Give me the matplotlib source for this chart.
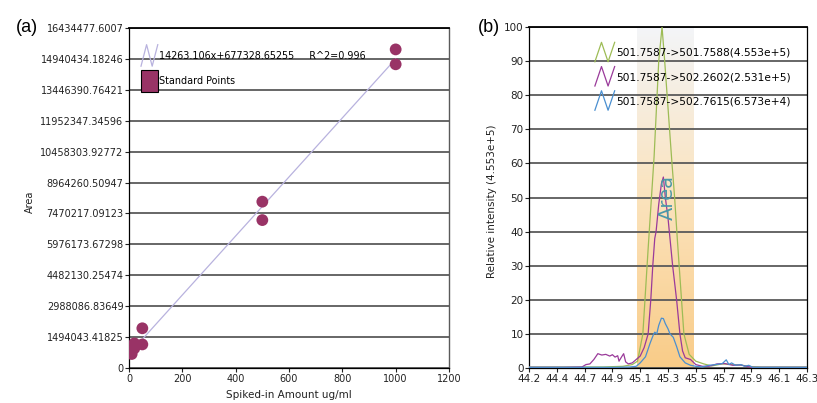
import numpy as np
import matplotlib.pyplot as plt
from matplotlib.legend_handler import HandlerBase
from matplotlib.lines import Line2D
from matplotlib.patches import Patch, Rectangle
from matplotlib.colors import LinearSegmentedColormap

# ---- panel (a): calibration curve ----
spiked = [10, 20, 20, 50, 50, 500, 500, 1000, 1000]
area = [677000, 952000, 1190000, 1920000, 1140000, 8040000, 7150000, 15400000, 14680000]
fit_slope = 14263.106
fit_icpt = 677328.65255
fit_label = "14263.106x+677328.65255     R^2=0.996"
area_ticks = [0, 1494043.41825, 2988086.83649, 4482130.25474, 5976173.67298,
              7470217.09123, 8964260.50947, 10458303.92772, 11952347.34596,
              13446390.76421, 14940434.18246, 16434477.6007]
area_ticklabels = ["0", "1494043.41825", "2988086.83649", "4482130.25474", "5976173.67298",
                   "7470217.09123", "8964260.50947", "10458303.92772", "11952347.34596",
                   "13446390.76421", "14940434.18246", "16434477.6007"]
spiked_ticks = [0, 200, 400, 600, 800, 1000, 1200]

# ---- panel (b): chromatograms ----
green_t = [44.24, 44.5, 44.8, 44.95, 45.02, 45.06, 45.10, 45.14, 45.165, 45.185, 45.22, 45.245,
           45.265, 45.32, 45.34, 45.36, 45.41, 45.45, 45.50, 45.56, 45.62, 45.70, 45.78, 45.85,
           45.92, 46.0, 46.34]
green_i = [0.3, 0.3, 0.3, 0.5, 1.0, 2.0, 10, 35, 50, 62, 90, 100,
           90, 60, 50, 38, 10, 4, 2, 1.2, 0.6, 1.2, 1.0, 0.8, 0.4, 0.3, 0.3]
purple_t = [44.24, 44.5, 44.64, 44.67, 44.70, 44.73, 44.76, 44.79, 44.82, 44.85, 44.87, 44.89,
            44.91, 44.92, 44.94, 44.955, 44.97, 44.99, 45.02, 45.05, 45.08, 45.11, 45.14, 45.16,
            45.175, 45.19, 45.20, 45.22, 45.24, 45.255, 45.27, 45.29, 45.30, 45.325, 45.355,
            45.38, 45.40, 45.42, 45.46, 45.50, 45.55, 45.60, 45.66, 45.72, 45.78, 45.84, 45.88,
            45.92, 46.34]
purple_i = [0.2, 0.2, 0.3, 1.0, 1.2, 2.5, 4.2, 3.8, 4.0, 3.5, 3.9, 3.2,
            3.6, 2.0, 3.3, 4.2, 1.8, 1.2, 1.5, 2.5, 3.5, 6, 10, 20,
            30, 38, 40, 48, 54, 56, 50, 44, 40, 30, 20,
            10, 5, 3, 2.5, 1.0, 0.5, 0.5, 1.2, 1.3, 0.8, 0.9, 0.5,
            0.2, 0.2]
blue_t = [44.24, 44.9, 45.0, 45.05, 45.08, 45.12, 45.155, 45.18, 45.19, 45.205, 45.22, 45.24,
          45.255, 45.27, 45.29, 45.305, 45.33, 45.355, 45.38, 45.42, 45.46, 45.50, 45.55,
          45.60, 45.65, 45.70, 45.73, 45.75, 45.77, 45.80, 45.84, 45.87, 45.90, 45.93, 46.34]
blue_i = [0.2, 0.2, 0.3, 0.5, 1.5, 3.3, 7.3, 9.8, 10.5, 10.0, 12.5, 14.6,
          14.5, 13, 11.5, 10, 9, 6.3, 3.3, 1.5, 0.8, 0.5, 0.3,
          0.8, 1.0, 1.3, 2.4, 1.0, 1.5, 0.8, 1.0, 0.5, 0.8, 0.2, 0.2]
trace_labels = ["501.7587->501.7588(4.553e+5)",
                "501.7587->502.2602(2.531e+5)",
                "501.7587->502.7615(6.573e+4)"]
peak_start, peak_end = 45.056, 45.48
rt_ticklabels = ["44.2", "44.4", "44.7", "44.9", "45.1", "45.3", "45.5", "45.7", "45.9", "46.1", "46.3"]
rt_min, rt_max = 44.24, 46.34
intensity_ticks = [0, 10, 20, 30, 40, 50, 60, 70, 80, 90, 100]


class ZigZag(HandlerBase):
    # zigzag icon, taller than the text row (height in points)
    def __init__(self, tall):
        super().__init__()
        self.tall = tall

    def create_artists(self, legend, orig, xd, yd, w, h, fs, trans):
        cy = (h - yd) / 2
        lo, hi = cy - self.tall / 2, cy + self.tall / 2
        xs = [-xd, -xd + w / 3, -xd + 2 * w / 3, -xd + w]
        ln = Line2D(xs, [lo, hi, lo, hi], color=orig.get_color(), lw=0.9, transform=trans)
        return [ln]


class BigSquare(HandlerBase):
    def __init__(self, tall):
        super().__init__()
        self.tall = tall

    def create_artists(self, legend, orig, xd, yd, w, h, fs, trans):
        cy = (h - yd) / 2
        r = Rectangle((-xd, cy - self.tall / 2), w, self.tall, facecolor=orig.get_facecolor(),
                      edgecolor='black', lw=0.8, transform=trans)
        return [r]


plt.rcParams['font.family'] = ['DejaVu Sans']
fig = plt.figure(figsize=(8.17, 4.03), dpi=100)
grid_col = '#5a5a5a'
txt = '#222222'

# ================= panel a =================
ax = fig.add_axes([129 / 817, 35 / 403, 320 / 817, 340 / 403])
ax.set_axisbelow(True)
xfit = np.array([min(spiked), max(spiked)])
fit_line, = ax.plot(xfit, fit_slope * xfit + fit_icpt, color='#b8b2de', lw=0.9, zorder=2)
ax.scatter(spiked, area, s=72, color='#993366', edgecolors='none', zorder=3)
ax.set_xlim(0, 1200)
ax.set_ylim(0, area_ticks[-1])
ax.set_xticks(spiked_ticks)
ax.set_yticks(area_ticks)
ax.set_yticklabels(area_ticklabels)
ax.grid(axis='y', color=grid_col, lw=1.3)
ax.tick_params(labelsize=7, colors=txt, length=3, width=0.8, pad=1)
for s in ['left', 'bottom']:
    ax.spines[s].set_color('black')
    ax.spines[s].set_linewidth(0.9)
ax.spines['top'].set_linewidth(1.3)
ax.spines['right'].set_color(grid_col)
ax.spines['right'].set_linewidth(1.0)
ax.set_xlabel("Spiked-in Amount ug/ml", fontsize=7.5, color=txt, labelpad=5)
ax.set_ylabel("Area", fontsize=7, color=txt)
ax.yaxis.set_label_coords(-0.294, 0.49)
sq = Patch(facecolor='#993366')
ax.legend([fit_line, sq], [fit_label, "Standard Points"],
          handler_map={fit_line: ZigZag(15.5), sq: BigSquare(15.5)},
          loc='upper left', bbox_to_anchor=(0.0375, 0.933),
          frameon=False, fontsize=6.9, handlelength=1.75,
          handletextpad=0.15, labelspacing=1.6, borderpad=0, borderaxespad=0)

# ================= panel b =================
bx = fig.add_axes([529 / 817, 35 / 403, 278 / 817, 341 / 403])
bx.set_axisbelow(True)
shade = LinearSegmentedColormap.from_list('shade', ['#f9cc88', '#fbe3bd', '#f3f5f8'])
bx.imshow(np.linspace(0, 1, 256).reshape(-1, 1), cmap=shade, origin='lower', aspect='auto',
          extent=[peak_start, peak_end, 0, 100], zorder=0)
l1, = bx.plot(green_t, green_i, color='#9dbc55', lw=0.9, zorder=3)
l2, = bx.plot(purple_t, purple_i, color='#9a3a9a', lw=0.9, zorder=3)
l3, = bx.plot(blue_t, blue_i, color='#4a8fd0', lw=0.9, zorder=3)
bx.set_xlim(rt_min, rt_max)
bx.set_ylim(0, 100)
bx.set_xticks(np.linspace(rt_min, rt_max, len(rt_ticklabels)))
bx.set_xticklabels(rt_ticklabels)
bx.set_yticks(intensity_ticks)
bx.grid(axis='y', color=grid_col, lw=1.3)
bx.tick_params(labelsize=7.5, colors=txt, length=3, width=0.8, pad=1)
for s in ['left', 'bottom', 'right']:
    bx.spines[s].set_linewidth(0.9)
bx.spines['top'].set_linewidth(1.3)
bx.set_ylabel("Relative intensity (4.553e+5)", fontsize=7.5, color=txt)
bx.yaxis.set_label_coords(-0.115, 0.49)
bx.text((peak_start + peak_end) / 2 + 0.02, 50, "Area", rotation=90, fontsize=14,
        color='#4a98a8', ha='center', va='center', zorder=4)
bx.legend([l1, l2, l3], trace_labels,
          handler_map={l1: ZigZag(14), l2: ZigZag(14), l3: ZigZag(14)},
          loc='upper left', bbox_to_anchor=(0.237, 0.939), frameon=False, fontsize=7.7,
          handlelength=1.85, handletextpad=0.1, labelspacing=1.33,
          borderpad=0, borderaxespad=0)

fig.text(16 / 817, 1 - 27 / 403, "(a)", fontsize=13, family='Liberation Sans', va='center')
fig.text(478 / 817, 1 - 27 / 403, "(b)", fontsize=13, family='Liberation Sans', va='center')

fig.savefig('out.png', dpi=100)
